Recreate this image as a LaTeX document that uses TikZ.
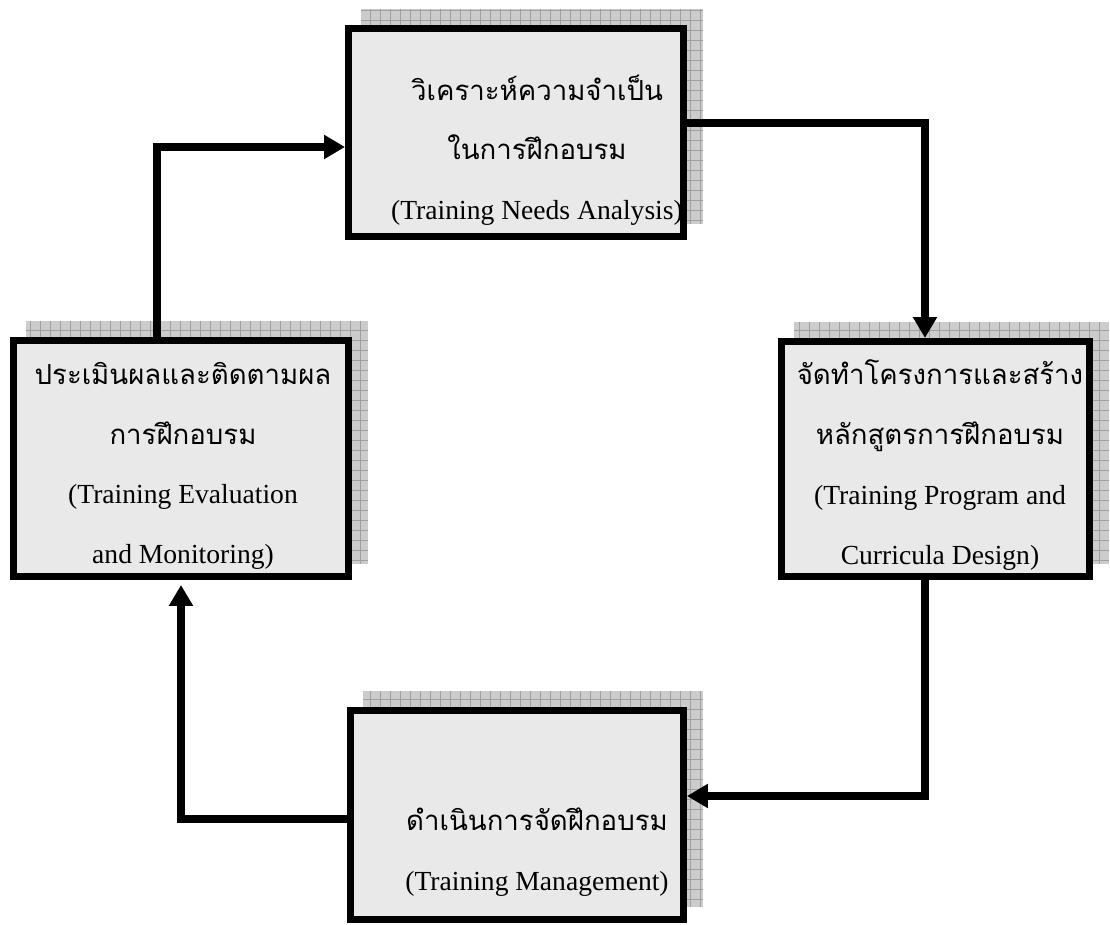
\documentclass[tikz,border=0pt]{standalone}
\usepackage{fontspec}
\setmainfont{Liberation Serif}
\newfontfamily\thaifont[Script=Thai]{Loma}
\usepackage{tikz}
\usetikzlibrary{arrows.meta}
\usetikzlibrary{backgrounds}

\begin{document}
\begin{tikzpicture}[x=0.02cm,y=-0.02cm,
    stagebox/.style={draw,line width=4pt,fill=gray!17,inner sep=0pt},
    stagetext/.style={align=center,font=\fontsize{15.7}{34}\selectfont},
    flow/.style={line width=4pt,-{Triangle[length=0.42cm,width=0.46cm]}}]
  \useasboundingbox (0,0) rectangle (1110,925);
  %%%%%%%%%%%%%%%%%%%%%%%%%%%%%%%%%%%%%%%%%%%%%%%%%%%%%%%%%%%%%%%%%%%%%%%%%%
  %%% BEGIN: STAGES.
  %%%%%%%%%%%%%%%%%%%%%%%%%%%%%%%%%%%%%%%%%%%%%%%%%%%%%%%%%%%%%%%%%%%%%%%%%%
  % Boxes.
  \node[stagebox,minimum width=6.70cm,minimum height=4.16cm] (tna) at (516,132.5) {};
  \node[stagebox,minimum width=6.16cm,minimum height=4.70cm] (tpc) at (935.5,459) {};
  \node[stagebox,minimum width=6.66cm,minimum height=4.18cm] (tm) at (517,815) {};
  \node[stagebox,minimum width=6.70cm,minimum height=4.72cm] (tem) at (181,458.5) {};

  % Texts.
  \node[stagetext] (tna-text) at (537,150)
    {{\thaifont วิเคราะห์ความจำเป็น}\\{\thaifont ในการฝึกอบรม}\\(Training Needs Analysis)};
  \node[stagetext] (tpc-text) at (940,465)
    {{\thaifont จัดทำโครงการและสร้าง}\\{\thaifont หลักสูตรการฝึกอบรม}\\(Training Program and\\Curricula Design)};
  \node[stagetext] (tm-text) at (537,852)
    {{\thaifont ดำเนินการจัดฝึกอบรม}\\(Training Management)};
  \node[stagetext] (tem-text) at (183,466)
    {{\thaifont ประเมินผลและติดตามผล}\\{\thaifont การฝึกอบรม}\\(Training Evaluation\\and Monitoring)};

  % Shadows.
  \begin{scope}[on background layer]
    \foreach \nd in {tna,tpc,tm,tem}{
      \fill[gray!40] ([shift={(16,-16)}]\nd.south west) rectangle ([shift={(16,-16)}]\nd.north east);
      \draw[gray!75,line width=0.4pt,step=0.2cm] ([shift={(16,-16)}]\nd.south west) grid ([shift={(16,-16)}]\nd.north east);
    }
  \end{scope}
  %%%%%%%%%%%%%%%%%%%%%%%%%%%%%%%%%%%%%%%%%%%%%%%%%%%%%%%%%%%%%%%%%%%%%%%%%%
  %%% END: STAGES.
  %%%%%%%%%%%%%%%%%%%%%%%%%%%%%%%%%%%%%%%%%%%%%%%%%%%%%%%%%%%%%%%%%%%%%%%%%%

  % Cycle.
  \coordinate (bend1) at (157,147);
  \coordinate (bend2) at (925,123);
  \coordinate (bend3) at (925,796);
  \coordinate (bend4) at (181,819);
  \draw[flow] (tem.north -| bend1) |- (tna.west |- bend1);
  \draw[flow] (tna.east |- bend2) -| (tpc.north -| bend2);
  \draw[flow] (tpc.south -| bend3) |- (tm.east |- bend3);
  \draw[flow,shorten >=0.1cm] (tm.west |- bend4) -| (tem.south -| bend4);
\end{tikzpicture}
\end{document}
